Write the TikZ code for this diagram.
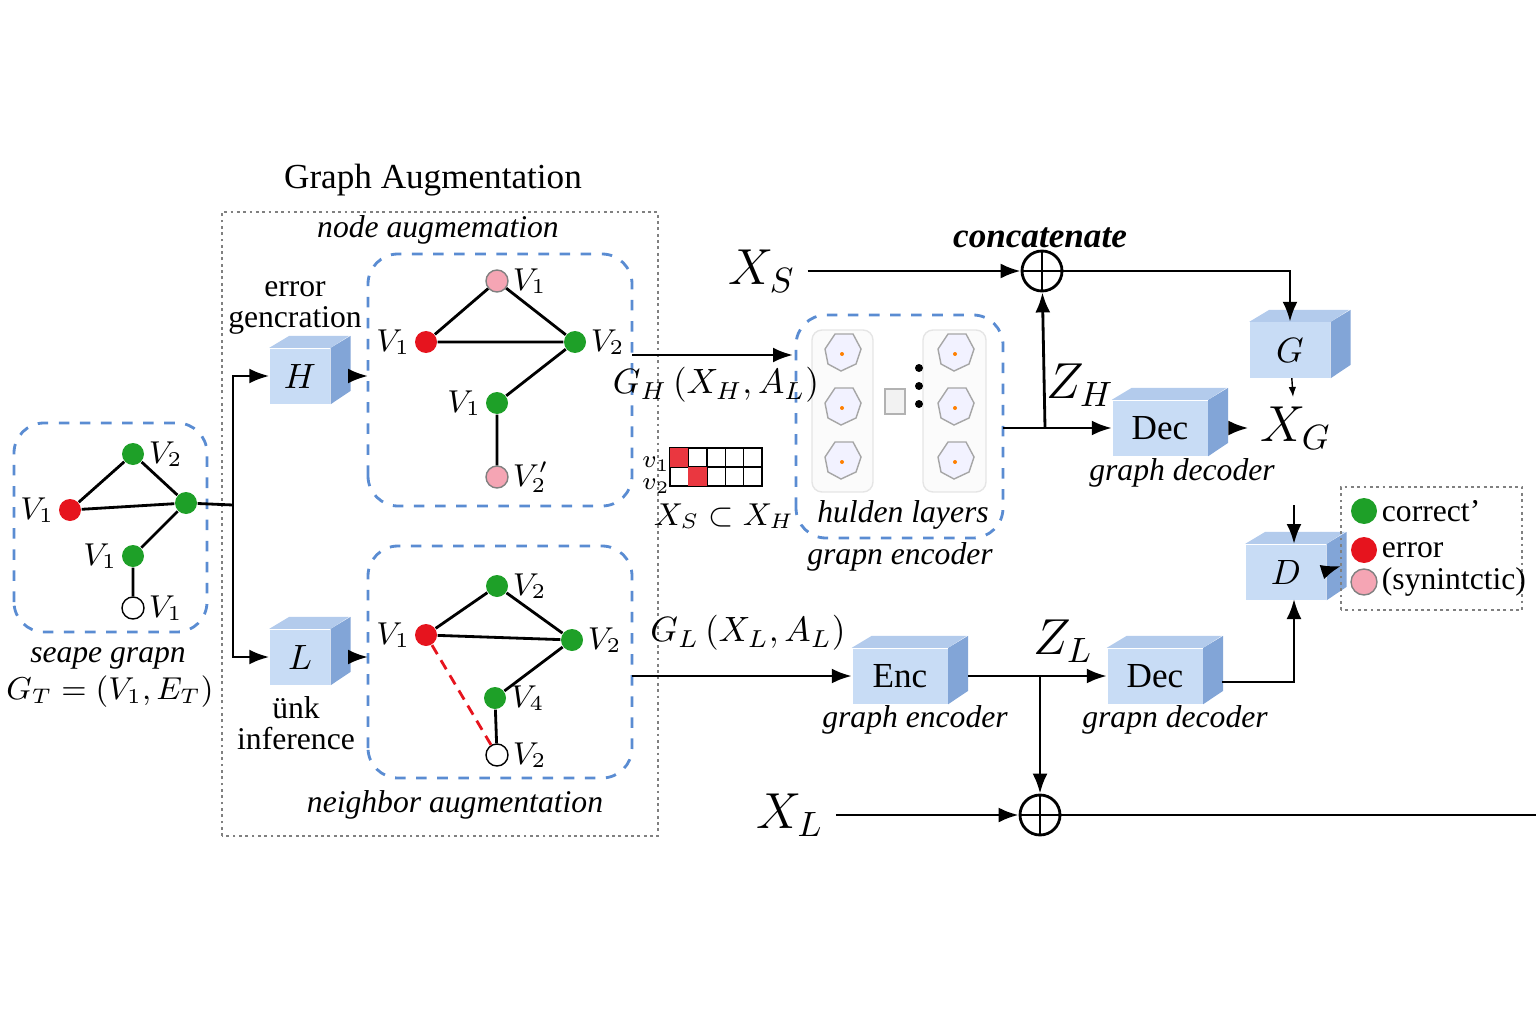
\documentclass[tikz,border=0pt]{standalone}
\usepackage{fontspec}
\setmainfont{Liberation Serif}
\usepackage{tikz}
\usetikzlibrary{arrows.meta, positioning, fit}
\definecolor{boxblue}{RGB}{90,140,210}
\definecolor{cubefront}{RGB}{200,220,245}
\definecolor{cubeside}{RGB}{130,165,215}
\definecolor{okgreen}{RGB}{30,160,40}
\definecolor{errred}{RGB}{230,20,30}
\definecolor{synpink}{RGB}{245,165,180}
\newcommand{\cube}[4]{%
  \node[cube, minimum width=#3] (#1) at (#2) {#4};
  \fill[cubeside] (#1.north east) -- ++(0.2,0.12) -- ++(0,-0.55) -- (#1.south east) -- cycle;
  \fill[cubefront!70!cubeside] (#1.north west) -- ++(0.2,0.12) -- ++(#3,0) -- (#1.north east) -- cycle;
}
\newcommand{\blob}[1]{%
  \draw[gray!70, fill=blue!5] (#1) ++(-0.17,0.05) -- ++(0.1,0.15) -- ++(0.18,0) -- ++(0.08,-0.15) -- ++(-0.05,-0.15) -- ++(-0.15,-0.07) -- ++(-0.13,0.07) -- cycle;
  \fill[orange] (#1) circle (0.02);
}
\begin{document}
\begin{tikzpicture}[
    vtx/.style={circle, draw=none, minimum size=0.22cm, inner sep=0pt},
    good/.style={vtx, fill=okgreen},
    bad/.style={vtx, fill=errred},
    syn/.style={vtx, fill=synpink, draw=gray},
    free/.style={vtx, fill=white, draw=black},
    vlab/.style={font=\small\itshape, inner sep=1pt},
    panel/.style={draw=boxblue, thick, dashed, rounded corners=0.3cm},
    cube/.style={fill=cubefront, minimum height=0.55cm, font=\normalsize, inner sep=1pt},
    arrow/.style={-{Latex[length=2mm]}, thick},
    caption/.style={font=\small\itshape},
    oplus/.style={circle, draw, thick, minimum size=0.4cm, inner sep=0pt, path picture={
      \draw (path picture bounding box.north) -- (path picture bounding box.south)
            (path picture bounding box.west) -- (path picture bounding box.east);}}
]
\useasboundingbox (0,0) rectangle (15.36,10.24);

% graph augmentation frame
\node[font=\normalsize] (title) at (4.33,8.44) {Graph Augmentation};
\draw[gray, densely dotted, thick] (2.22,1.88) rectangle (6.58,8.12);
\node[caption] (nodeaug) at (4.38,7.94) {node augmemation};
\node[caption] (nbraug) at (4.55,2.19) {neighbor augmentation};

% source graph
\draw[panel] (0.14,3.92) rectangle (2.07,6.01);
\node[bad, label={[vlab]left:$V_1$}] (s1) at (0.70,5.14) {};
\node[good, label={[vlab]right:$V_2$}] (s2) at (1.33,5.70) {};
\node[good] (s3) at (1.86,5.21) {};
\node[good, label={[vlab]left:$V_1$}] (s4) at (1.33,4.68) {};
\node[free, label={[vlab]right:$V_1$}] (s5) at (1.33,4.16) {};
\draw[thick] (s1) -- (s2) -- (s3) -- (s1) (s3) -- (s4) -- (s5);
\node[caption] (srccap) at (1.08,3.66) {seape grapn};
\node[font=\small] (srceq) at (1.10,3.32) {$G_T=(V_1,E_T)$};

% augmentation operators
\cube{H}{3.00,6.48}{0.6cm}{$H$}
\cube{L}{3.00,3.67}{0.6cm}{$L$}
\node[align=center, font=\small, text width=2cm] (errgen) at (2.95,7.16) {error\\[-2pt] gencration};
\node[align=center, font=\small, text width=2cm] (linkinf) at (2.96,3.01) {ünk\\[-2pt] inference};
\coordinate (split) at (2.33,5.19);
\draw[thick] (s3) -- (split);
\draw[arrow] (split) |- (H);
\draw[arrow] (split) |- (L);

% node augmentation graph
\draw[panel] (3.68,5.18) rectangle (6.32,7.70);
\node[syn, label={[vlab]right:$V_1$}] (a1) at (4.97,7.43) {};
\node[bad, label={[vlab]left:$V_1$}] (a2) at (4.26,6.82) {};
\node[good, label={[vlab]right:$V_2$}] (a3) at (5.75,6.82) {};
\node[good, label={[vlab]left:$V_1$}] (a4) at (4.97,6.21) {};
\node[syn, label={[vlab]right:$V_2'$}] (a5) at (4.97,5.47) {};
\draw[thick] (a1) -- (a2) -- (a3) -- (a1) (a3) -- (a4) -- (a5);
\draw[arrow] (H.east) ++(0.2,0) -- (3.68,6.48);

% neighbor augmentation graph
\draw[panel] (3.68,2.46) rectangle (6.32,4.78);
\node[good, label={[vlab]right:$V_2$}] (b1) at (4.97,4.38) {};
\node[bad, label={[vlab]left:$V_1$}] (b2) at (4.26,3.89) {};
\node[good, label={[vlab]right:$V_2$}] (b3) at (5.72,3.84) {};
\node[good, label={[vlab]right:$V_4$}] (b4) at (4.95,3.26) {};
\node[free, label={[vlab]right:$V_2$}] (b5) at (4.97,2.69) {};
\draw[thick] (b1) -- (b2) -- (b3) -- (b1) (b3) -- (b4) -- (b5);
\draw[errred, thick, densely dashed] (b2) -- (b5);
\draw[arrow] (L.east) ++(0.2,0) -- (3.68,3.67);

% feature mask
\foreach \r in {0,1}
  \foreach \c in {0,...,4}
    \draw (6.70+0.184*\c,5.76-0.19*\r) rectangle ++(0.184,-0.19);
\fill[errred!85] (6.70,5.76) rectangle ++(0.184,-0.19);
\fill[errred!85] (6.884,5.57) rectangle ++(0.184,-0.19);
\node[font=\scriptsize] (mrow1) at (6.56,5.60) {$v_1$};
\node[font=\scriptsize] (mrow2) at (6.56,5.38) {$v_2$};
\node[font=\small] (subset) at (7.24,5.08) {$X_S\subset X_H$};

% hidden layers encoder
\draw[panel] (7.96,4.86) rectangle (10.03,7.09);
\draw[gray!20, fill=gray!3, rounded corners=0.1cm] (8.12,5.32) rectangle (8.73,6.94);
\draw[gray!20, fill=gray!3, rounded corners=0.1cm] (9.23,5.32) rectangle (9.86,6.94);
\foreach \y in {6.70,6.16,5.62} { \blob{8.42,\y} \blob{9.55,\y} }
\draw[gray!60, fill=gray!10] (8.85,6.10) rectangle (9.05,6.35);
\foreach \y in {6.56,6.38,6.20} \fill (9.19,\y) circle (0.04);
\node[caption] (hidcap) at (9.03,5.09) {hulden layers};
\node[caption] (gencap) at (9.00,4.67) {grapn encoder};
\coordinate (hin) at (7.93,6.69);
\draw[arrow] (6.32,6.69) -- (hin);
\node[font=\normalsize] (gh) at (7.16,6.39) {$G_H\,(X_H, A_L)$};

% concatenation branch
\node[font=\Large] (xs) at (7.62,7.53) {$X_S$};
\node[oplus] (cat) at (10.42,7.53) {};
\node[font=\normalsize\bfseries\itshape] (catcap) at (10.40,7.86) {concatenate};
\draw[arrow] (xs) -- (cat);
\cube{G}{12.90,6.74}{0.8cm}{$G$}
\cube{decH}{11.60,5.96}{0.95cm}{Dec}
\draw[arrow] (cat) -| (G);
\coordinate (zh) at (10.45,5.96);
\draw[arrow] (10.03,5.96) -- (decH);
\draw[arrow] (zh) -- (cat);
\node[font=\Large] (zhlab) at (10.80,6.39) {$Z_H$};
\node[font=\Large] (xg) at (12.96,5.96) {$X_G$};
\draw[arrow] (12.30,5.96) -- (xg);
\draw[-{Latex[length=1mm]}] (G) -- (12.93,6.27);
\node[caption] (decHcap) at (11.82,5.51) {graph decoder};

% discriminator and legend
\cube{D}{12.86,4.52}{0.8cm}{$D$}
\coordinate (dtop) at (12.94,5.19);
\draw[arrow] (dtop) -- (12.94,4.80);
\draw[gray, densely dotted, thick] (13.41,4.14) rectangle (15.22,5.37);
\node[good, minimum size=0.26cm, label={[font=\small, inner sep=1pt]right:correct'}] (lg1) at (13.64,5.13) {};
\node[bad, minimum size=0.26cm, label={[font=\small, inner sep=1pt]right:error}] (lg2) at (13.64,4.74) {};
\node[syn, minimum size=0.26cm, label={[font=\small, inner sep=1pt]right:(synintctic)}] (lg3) at (13.64,4.42) {};
\draw[arrow] (13.22,4.52) -- (13.41,4.58);

% link branch
\node[font=\normalsize] (gl) at (7.48,3.91) {$G_L\,(X_L, A_L)$};
\cube{Enc}{9.00,3.48}{0.95cm}{Enc}
\cube{decL}{11.55,3.48}{0.95cm}{Dec}
\draw[arrow] (6.32,3.48) -- (Enc);
\draw[arrow] (9.68,3.48) -- (decL);
\node[caption] (enccap) at (9.15,3.04) {graph encoder};
\node[caption] (decLcap) at (11.75,3.04) {grapn decoder};
\node[font=\Large] (zl) at (10.63,3.83) {$Z_L$};
\coordinate (zlsplit) at (10.40,3.48);
\draw[thick] (12.22,3.42) -| (12.94,4.15);
\draw[arrow] (12.94,3.43) -- (12.94,4.25);
\node[oplus] (sum) at (10.40,2.09) {};
\draw[arrow] (zlsplit) -- (sum);
\node[font=\Large] (xl) at (7.90,2.09) {$X_L$};
\draw[arrow] (xl) -- (sum);
\coordinate (outL) at (15.36,2.09);
\draw[thick] (sum) -- (outL);
\end{tikzpicture}
\end{document}
